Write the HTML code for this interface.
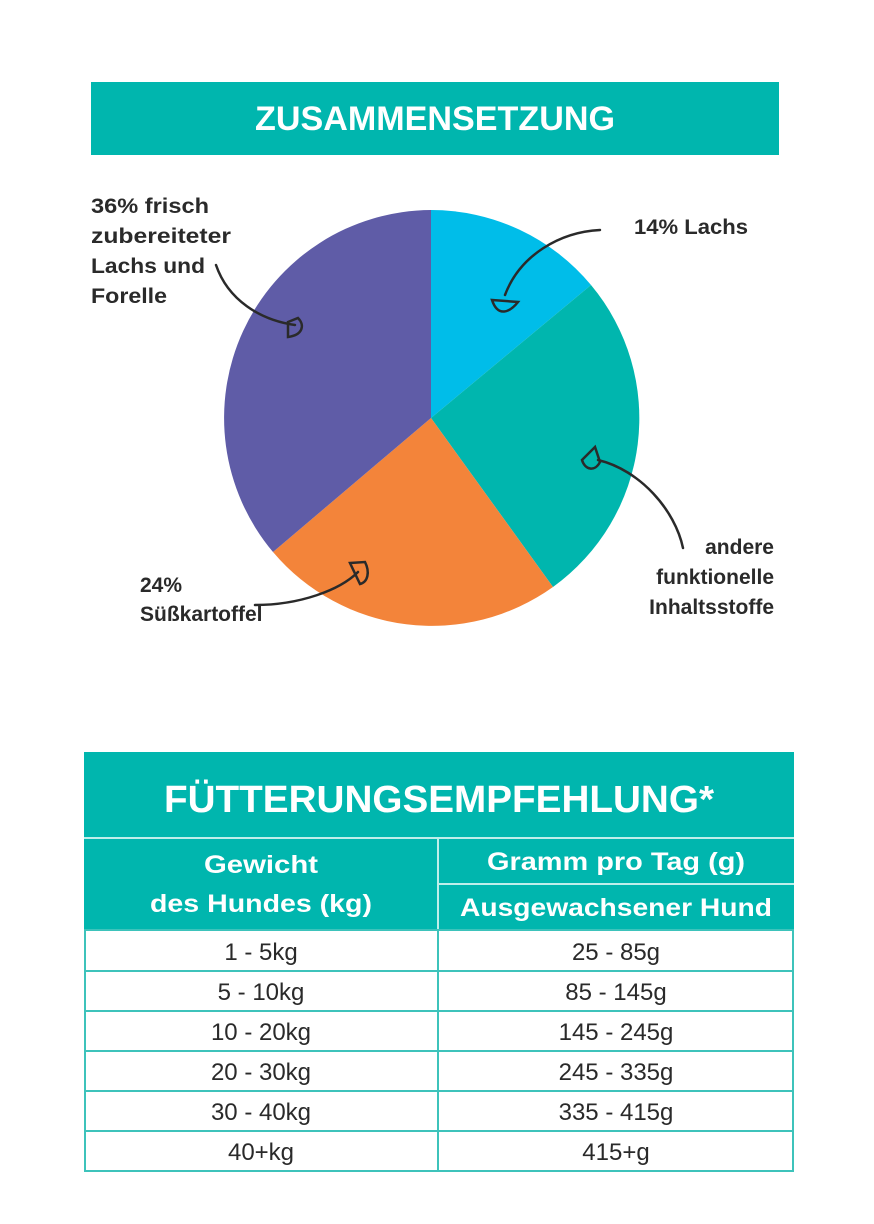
<!DOCTYPE html>
<html><head><meta charset="utf-8"><style>
html,body{margin:0;padding:0;background:#fff;}
svg{display:block;}
text{font-family:"Liberation Sans",sans-serif;}
</style></head><body>
<svg width="874" height="1224" viewBox="0 0 874 1224" xmlns="http://www.w3.org/2000/svg">
<rect width="874" height="1224" fill="#fff"/>
<rect x="91" y="82" width="688" height="73" fill="#00b6ae"/>
<text x="435" y="130" text-anchor="middle" fill="#fff" font-size="34" font-weight="bold" textLength="360" lengthAdjust="spacingAndGlyphs">ZUSAMMENSETZUNG</text>
<path d="M431,418 L431,210 A208,208 0 0 1 591,285 Z" fill="#00bde9"/>
<path d="M431,418 L591,285 A208,208 0 0 1 553,587 Z" fill="#00b6ae"/>
<path d="M431,418 L553,587 A208,208 0 0 1 273,552 Z" fill="#f3843a"/>
<path d="M431,418 L273,552 A208,208 0 0 1 431,210 Z" fill="#5f5ca7"/>
<g fill="none" stroke="#2a2a2a" stroke-width="2.5" stroke-linecap="round">
<path d="M216,265 C228,300 260,320 295,325"/>
<path d="M288,322 L298,318 C305,325 303,335 288,337 Z"/>
<path d="M600,230 C560,232 520,255 505,295"/>
<path d="M492,300 L518,302 C510,312 498,318 492,300 Z"/>
<path d="M683,548 C675,510 640,470 598,460"/>
<path d="M595,447 L582,460 C585,470 595,472 600,462 Z"/>
<path d="M255,605 C300,605 340,590 358,572"/>
<path d="M350,563 L365,562 C370,572 368,582 360,584 Z"/>
</g>
<g fill="#2a2a2a" font-size="21" font-weight="bold">
<text x="91" y="213" textLength="118" lengthAdjust="spacingAndGlyphs">36% frisch</text>
<text x="91" y="243" textLength="140" lengthAdjust="spacingAndGlyphs">zubereiteter</text>
<text x="91" y="273" textLength="114" lengthAdjust="spacingAndGlyphs">Lachs und</text>
<text x="91" y="303" textLength="76" lengthAdjust="spacingAndGlyphs">Forelle</text>
<text x="634" y="234" textLength="114" lengthAdjust="spacingAndGlyphs">14% Lachs</text>
<text x="774" y="554" text-anchor="end">andere</text>
<text x="774" y="584" text-anchor="end">funktionelle</text>
<text x="774" y="614" text-anchor="end">Inhaltsstoffe</text>
<text x="140" y="592">24%</text>
<text x="140" y="621">Süßkartoffel</text>
</g>
<rect x="84" y="752" width="710" height="178" fill="#00b6ae"/>
<text x="439" y="812" text-anchor="middle" fill="#fff" font-size="38" font-weight="bold" textLength="550" lengthAdjust="spacingAndGlyphs">FÜTTERUNGSEMPFEHLUNG*</text>
<g stroke="#bfeeea" stroke-width="2" fill="none">
<line x1="84" y1="838" x2="794" y2="838"/>
<line x1="438" y1="838" x2="438" y2="930"/>
<line x1="438" y1="884" x2="794" y2="884"/>
</g>
<g fill="#fff" font-size="25" font-weight="bold" text-anchor="middle">
<text x="261" y="873" textLength="114" lengthAdjust="spacingAndGlyphs">Gewicht</text>
<text x="261" y="912" textLength="222" lengthAdjust="spacingAndGlyphs">des Hundes (kg)</text>
<text x="616" y="870" textLength="258" lengthAdjust="spacingAndGlyphs">Gramm pro Tag (g)</text>
<text x="616" y="916" textLength="312" lengthAdjust="spacingAndGlyphs">Ausgewachsener Hund</text>
</g>
<g stroke="#3dc3bb" stroke-width="2" fill="none">
<rect x="85" y="930" width="708" height="241"/>
<line x1="438" y1="930" x2="438" y2="1171"/>
<line x1="85" y1="971" x2="793" y2="971"/>
<line x1="85" y1="1011" x2="793" y2="1011"/>
<line x1="85" y1="1051" x2="793" y2="1051"/>
<line x1="85" y1="1091" x2="793" y2="1091"/>
<line x1="85" y1="1131" x2="793" y2="1131"/>
</g>
<g fill="#2a2a2a" font-size="24" text-anchor="middle">
<text x="261" y="960">1 - 5kg</text><text x="616" y="960">25 - 85g</text>
<text x="261" y="1000">5 - 10kg</text><text x="616" y="1000">85 - 145g</text>
<text x="261" y="1040">10 - 20kg</text><text x="616" y="1040">145 - 245g</text>
<text x="261" y="1080">20 - 30kg</text><text x="616" y="1080">245 - 335g</text>
<text x="261" y="1120">30 - 40kg</text><text x="616" y="1120">335 - 415g</text>
<text x="261" y="1160">40+kg</text><text x="616" y="1160">415+g</text>
</g>
</svg>
</body></html>
